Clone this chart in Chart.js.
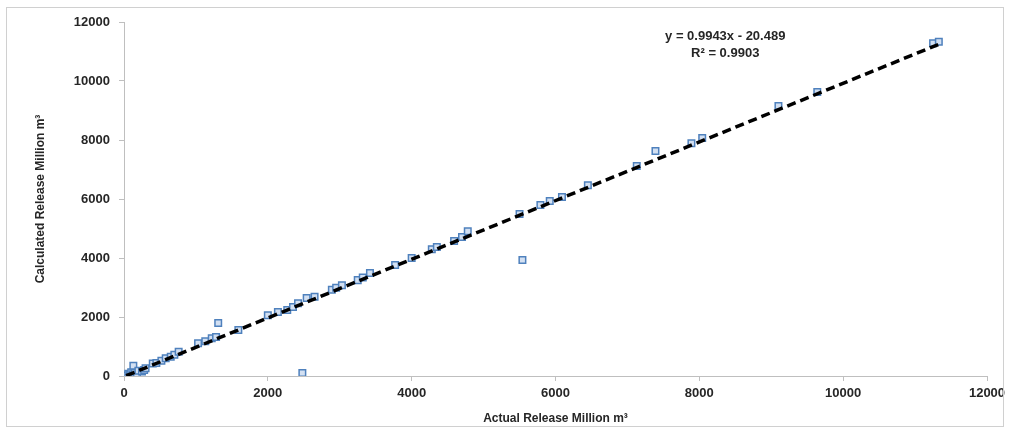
<!DOCTYPE html>
<html>
<head>
<meta charset="utf-8">
<script src="https://cdn.jsdelivr.net/npm/chart.js@4/dist/chart.umd.min.js"></script>
<style>
  html, body { margin: 0; padding: 0; background: #fff; }
  #wrap { position: relative; width: 1011px; height: 435px; }
  #frame { position: absolute; left: 6px; top: 7px; width: 998px; height: 420px; border: 1px solid #D0D0D0; box-sizing: border-box; pointer-events: none; }
  canvas { display: block; }
</style>
</head>
<body>
<div id="wrap">
  <canvas id="c" width="1011" height="435"></canvas>
  <div id="frame"></div>
</div>
<script>
// Observed (actual) vs. modelled (calculated) reservoir release, million m³
const actualRelease = [
  30, 60, 80, 100, 120, 130, 150, 180, 200, 250, 280, 300,
  400, 450, 520, 580, 650, 700, 760,
  1030, 1130, 1220, 1280, 1310, 1590,
  2000, 2140, 2270, 2350, 2420, 2480, 2540, 2650, 2890, 2950, 3030,
  3250, 3320, 3420, 3770, 4000, 4280, 4350, 4590, 4700, 4780,
  5500, 5540, 5790, 5920, 6090, 6450, 7130, 7390, 7890, 8040,
  9100, 9640, 11250, 11330
];
const calculatedRelease = [
  20, 80, 40, 130, 60, 350, 100, 30, 180, 150, 200, 260,
  420, 440, 520, 600, 650, 720, 820,
  1110, 1180, 1280, 1320, 1800, 1560,
  2060, 2170, 2240, 2340, 2470, 100, 2640, 2690, 2920, 2990, 3080,
  3250, 3340, 3490, 3760, 4000, 4300, 4370, 4580, 4710, 4910,
  5490, 3930, 5800, 5930, 6070, 6470, 7120, 7630, 7890, 8070,
  9150, 9630, 11280, 11330
];

// Linear trend line reported on the chart
const trendSlope = 0.9943;
const trendIntercept = -20.489;
const trendR2 = 0.9903;
const equationLines = ['y = 0.9943x - 20.489', 'R² = 0.9903'];

const axisMin = 0, axisMax = 12000, axisStep = 2000;
const xTitle = 'Actual Release Million m³';
const yTitle = 'Calculated Release Million m³';

const points = actualRelease.map((x, i) => ({ x: x, y: calculatedRelease[i] }));
const xLo = Math.min(...actualRelease), xHi = Math.max(...actualRelease);
const trend = [
  { x: xLo, y: trendSlope * xLo + trendIntercept },
  { x: xHi, y: trendSlope * xHi + trendIntercept }
];

const FONT = '"Liberation Sans", Arial, sans-serif';
const TEXT = '#262626';
const AXIS = '#BFBFBF';

// Writes the regression equation and R² above the upper end of the line
const equationLabel = {
  id: 'equationLabel',
  afterDatasetsDraw(chart) {
    const { ctx, scales } = chart;
    const cx = scales.x.getPixelForValue(8360);
    const cy = scales.y.getPixelForValue(11500);
    ctx.save();
    ctx.fillStyle = TEXT;
    ctx.font = 'bold 13px ' + FONT;
    ctx.textAlign = 'center';
    ctx.textBaseline = 'middle';
    equationLines.forEach((t, i) => ctx.fillText(t, cx, cy + i * 17));
    ctx.restore();
  }
};

const plainNumber = v => String(v);

new Chart(document.getElementById('c'), {
  type: 'scatter',
  data: {
    datasets: [
      {
        type: 'line',
        label: 'Linear trend',
        data: trend,
        borderColor: '#000000',
        borderWidth: 3.5,
        borderDash: [9, 5],
        pointRadius: 0,
        fill: false,
        order: 0
      },
      {
        label: 'Release',
        data: points,
        pointStyle: 'rect',
        pointRadius: 4.6,
        pointHoverRadius: 4.6,
        pointBorderWidth: 1.5,
        pointBorderColor: '#4F81BD',
        pointBackgroundColor: '#D3E0F2',
        showLine: false,
        order: 1
      }
    ]
  },
  options: {
    responsive: false,
    animation: false,
    devicePixelRatio: 1,
    layout: { padding: { left: 8, top: 22, right: 24, bottom: 8 } },
    plugins: { legend: { display: false }, tooltip: { enabled: false } },
    scales: {
      x: {
        type: 'linear',
        min: axisMin, max: axisMax,
        afterFit(s) { s.height = 51; },
        ticks: { stepSize: axisStep, padding: 5, color: TEXT, callback: plainNumber, font: { family: FONT, size: 13, weight: 'bold' } },
        grid: { display: true, drawOnChartArea: false, drawTicks: true, tickLength: 5, color: AXIS },
        border: { color: AXIS, width: 1 },
        title: { display: true, text: xTitle, color: TEXT, font: { family: FONT, size: 12, weight: 'bold' }, padding: { top: 0, bottom: 1 } }
      },
      y: {
        type: 'linear',
        min: axisMin, max: axisMax,
        afterFit(s) { s.width = 116; },
        ticks: { stepSize: axisStep, padding: 9, color: TEXT, callback: plainNumber, font: { family: FONT, size: 13, weight: 'bold' } },
        grid: { display: true, drawOnChartArea: false, drawTicks: true, tickLength: 5, color: AXIS },
        border: { color: AXIS, width: 1 },
        title: { display: true, text: yTitle, color: TEXT, font: { family: FONT, size: 12, weight: 'bold' }, padding: { top: 25, bottom: 0 } }
      }
    }
  },
  plugins: [equationLabel]
});
</script>
</body>
</html>
